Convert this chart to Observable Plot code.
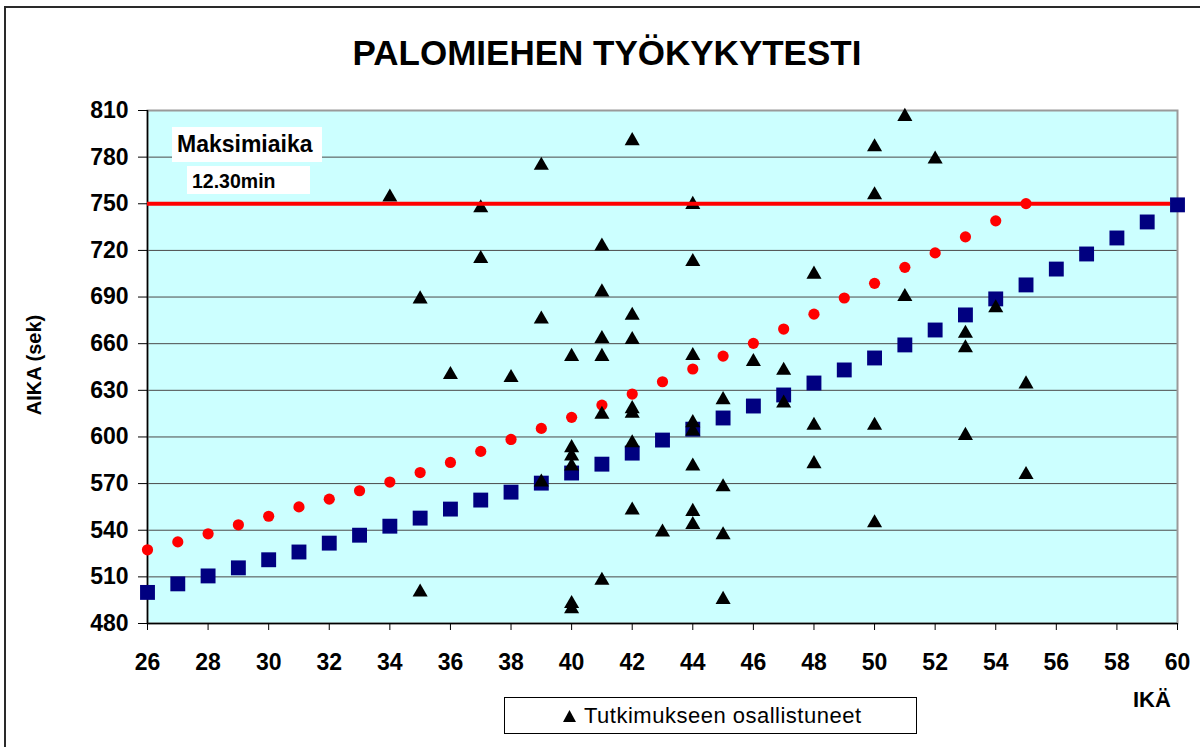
<!DOCTYPE html>
<html>
<head>
<meta charset="utf-8">
<script src="https://cdn.jsdelivr.net/npm/d3@7"></script>
<script src="https://cdn.jsdelivr.net/npm/@observablehq/plot@0.6"></script>
<style>
  html, body { margin: 0; padding: 0; background: #fff; }
  body { font-family: "Liberation Sans", Arial, sans-serif; }
  #wrap { position: relative; width: 1200px; height: 747px; overflow: hidden; }
  #chart { position: absolute; left: 0; top: 0; }
  .outer { position: absolute; left: 4px; top: 6px; width: 1300px; height: 900px;
           border-left: 2px solid #2a2a2a; border-top: 2px solid #2a2a2a; }
  #title { position: absolute; left: 307px; top: 34.6px; width: 600px; text-align: center;
           font-size: 35px; line-height: 35px; font-weight: bold; color: #000; white-space: nowrap; }
  #ylabel { position: absolute; left: -66px; top: 352.5px; width: 200px; height: 24px; line-height: 24px;
            text-align: center; font-size: 20px; font-weight: bold; transform: rotate(-90deg); white-space: nowrap; }
  #xlabel { position: absolute; left: 1133px; top: 688.9px; font-size: 22px; line-height: 22px; font-weight: bold; white-space: nowrap; }
  #box1 { position: absolute; left: 172px; top: 127px; width: 150px; height: 35px; box-sizing: border-box;
          padding-left: 5px; line-height: 35px; background: #fff;
          font-size: 23px; font-weight: bold; white-space: nowrap; }
  #box2 { position: absolute; left: 187px; top: 166px; width: 123px; height: 28px; box-sizing: border-box;
          padding-top: 3px; padding-left: 5px; line-height: 25px; background: #fff;
          font-size: 19.5px; font-weight: bold; white-space: nowrap; }
  #legend { position: absolute; left: 504px; top: 697px; width: 413px; height: 37px; box-sizing: border-box;
            border: 1px solid #000; background: #fff; }
  #legend svg { position: absolute; left: 58px; top: 12px; }
  #legend span { position: absolute; left: 79px; top: 6.7px; font-size: 22px; line-height: 22px;
                 letter-spacing: 0.5px; white-space: nowrap; }
</style>
</head>
<body>
<div id="wrap">
  <div class="outer"></div>
  <div id="chart"></div>
  <div id="title">PALOMIEHEN TYÖKYKYTESTI</div>
  <div id="ylabel">AIKA (sek)</div>
  <div id="xlabel">IKÄ</div>
  <div id="box1">Maksimiaika</div>
  <div id="box2">12.30min</div>
  <div id="legend">
    <svg width="13" height="12"><polygon points="6.5,0 13,12 0,12" fill="#000"/></svg>
    <span>Tutkimukseen osallistuneet</span>
  </div>
</div>
<script>
// ---- data ----
const yTicks = [480, 510, 540, 570, 600, 630, 660, 690, 720, 750, 780, 810];
const xTicks = [26, 28, 30, 32, 34, 36, 38, 40, 42, 44, 46, 48, 50, 52, 54, 56, 58, 60];

const maxTime = 750; // 12.30 min

// blue squares
const squareAges = [26, 27, 28, 29, 30, 31, 32, 33, 34, 35, 36, 37, 38, 39, 40, 41, 42, 43,
                    44, 45, 46, 47, 48, 49, 50, 51, 52, 53, 54, 55, 56, 57, 58, 59, 60];
const squareTimes = [500, 505.5, 510.6, 515.8, 521, 526, 531.7, 536.8, 542.6, 547.8, 553.6, 559.4,
                     564.5, 570.3, 576.8, 582.5, 589.6, 598, 605, 612.2, 619.9, 627, 634.7, 643.1,
                     650.8, 659.2, 668.8, 678.5, 688.8, 697.8, 708, 717.7, 728, 738.3, 749.3];

// red circles
const circleAges = [26, 27, 28, 29, 30, 31, 32, 33, 34, 35, 36, 37, 38, 39, 40,
                    41, 42, 43, 44, 45, 46, 47, 48, 49, 50, 51, 52, 53, 54, 55];
const circleTimes = [527.4, 532.5, 537.7, 543.5, 549, 555, 560, 565.4, 571, 577.1, 583.6, 590.7,
                     598.4, 605.5, 612.6, 620.5, 627.6, 635.5, 643.7, 652, 660.2, 669.4, 679,
                     689.4, 698.8, 709.1, 718.4, 728.7, 739, 750.1];

// participants (black triangles)
const participantAges = [
  34,
  35, 35,
  36,
  37, 37,
  38,
  39, 39, 39,
  40, 40, 40, 40, 40, 40,
  41, 41, 41, 41, 41, 41,
  42, 42, 42, 42, 42, 42, 42,
  43,
  44, 44, 44, 44, 44, 44, 44, 44,
  45, 45, 45, 45,
  46,
  47, 47,
  48, 48, 48,
  50, 50, 50, 50,
  51, 51,
  52,
  53, 53, 53,
  54,
  55, 55
];
const participantTimes = [
  755.5,
  690, 501.4,
  641.3,
  748.6, 716,
  639.4,
  776, 677, 572.2,
  653, 594.3, 589, 582.5, 494, 490.7,
  724, 694.5, 664.5, 653, 615.8, 509,
  791.8, 679.5, 663.9, 619.4, 616.4, 597.5, 554.2,
  540,
  750.8, 714, 653.6, 610.4, 605, 582.5, 553.3, 544.8,
  625.2, 569.2, 538.3, 496.7,
  649.7,
  644.1, 623,
  705.9, 608.7, 584,
  787.9, 757, 608.7, 546,
  807.4, 691.5,
  780,
  667.9, 658.5, 602.2,
  684.3,
  635.3, 577
];

// ---- tables built from the arrays ----
const squares = squareAges.map((a, i) => ({age: a, time: squareTimes[i]}));
const circles = circleAges.map((a, i) => ({age: a, time: circleTimes[i]}));
const participants = participantAges.map((a, i) => ({age: a, time: participantTimes[i]}));
const gridLines = yTicks.slice(1, -1);
const ageMin = d3.min(squareAges), ageMax = d3.max(squareAges);

const chart = Plot.plot({
  width: 1200,
  height: 747,
  marginLeft: 147,
  marginRight: 23,
  marginTop: 110,
  marginBottom: 124,
  x: {domain: [xTicks[0], xTicks[xTicks.length - 1]]},
  y: {domain: [yTicks[0], yTicks[yTicks.length - 1]]},
  style: {
    fontFamily: "'Liberation Sans', Arial, sans-serif",
    fontSize: "23px",
    fontWeight: "bold",
    color: "#000",
    background: "transparent",
    overflow: "visible"
  },
  marks: [
    Plot.frame({fill: "#CCFFFF"}),
    Plot.ruleY(gridLines, {stroke: "#4a4a4a", strokeWidth: 1}),
    Plot.frame({stroke: "#9a9a9a", strokeWidth: 2}),
    Plot.ruleX([ageMin], {stroke: "#000", strokeWidth: 1.5}),
    Plot.ruleY([yTicks[0]], {stroke: "#000", strokeWidth: 1.5}),
    Plot.axisY({ticks: yTicks, tickSize: 9, tickPadding: 10, label: null, tickFormat: d => String(d)}),
    Plot.axisX({ticks: xTicks, tickSize: 7, tickPadding: 23, label: null, tickFormat: d => String(d)}),
    Plot.dot(squares, {x: "age", y: "time", symbol: "square", fill: "#000080", r: 8.4}),
    Plot.dot(circles, {x: "age", y: "time", symbol: "circle", fill: "#FF0000", r: 5.6}),
    Plot.dot(participants, {x: "age", y: "time", symbol: "triangle", fill: "#000", r: 5.6, dy: 2}),
    Plot.ruleY([maxTime], {x1: ageMin, x2: ageMax, stroke: "#FF0000", strokeWidth: 4, insetRight: 7})
  ]
});
document.getElementById("chart").appendChild(chart);
</script>
</body>
</html>
